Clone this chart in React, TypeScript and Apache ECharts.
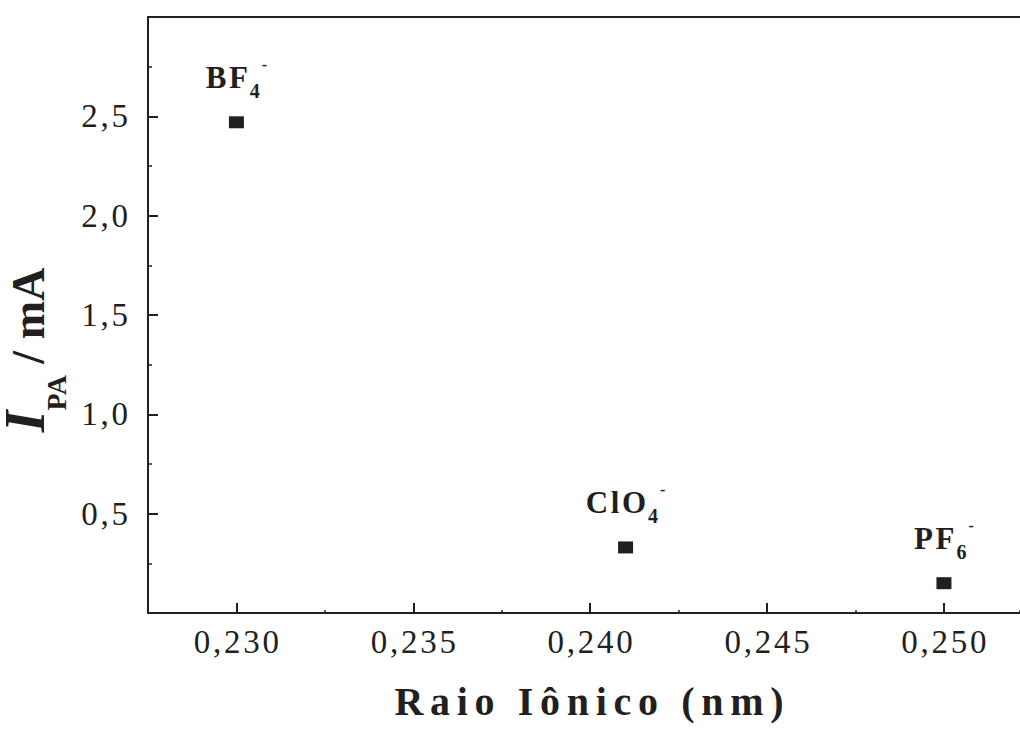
import React, { useEffect, useRef } from "react";
import * as echarts from "echarts";

// Ionic radius of the anion (nm) and anodic peak current (mA)
const ionRadius = [0.23, 0.241, 0.25];
const peakCurrent = [2.47, 0.33, 0.15];
const anionBase = ["BF", "ClO", "PF"];
const anionSub = ["4", "4", "6"];
const xTicks = [0.23, 0.235, 0.24, 0.245, 0.25];

const INK = "#231f20";
const SERIF = '"Liberation Serif", "Times New Roman", serif';
const HAIR = "\u200A";

const spaced = (s: string, n = 1) => s.split("").join(HAIR.repeat(n));
const comma = (v: number, d: number) => v.toFixed(d).replace(".", ",");

const X_MIN = 0.2275;
const X_MAX = 0.25215;

export default function App() {
  const ref = useRef<HTMLDivElement>(null);

  useEffect(() => {
    if (!ref.current) return;
    const chart = echarts.init(ref.current, undefined, { renderer: "svg" });

    const tickLabel = {
      fontFamily: SERIF,
      fontSize: 33,
      color: INK,
      lineHeight: 33,
    };

    chart.setOption({
      animation: false,
      backgroundColor: "#ffffff",
      grid: { left: 148, right: 0, top: 17, bottom: 116 },
      xAxis: [
        {
          type: "value",
          min: X_MIN,
          max: X_MAX,
          position: "bottom",
          axisLine: { show: true, onZero: false, lineStyle: { color: INK, width: 2 } },
          axisTick: {
            show: true,
            inside: true,
            length: 10,
            customValues: xTicks,
            lineStyle: { color: INK, width: 2 },
          },
          axisLabel: {
            ...tickLabel,
            customValues: xTicks,
            margin: 12,
            formatter: (v: number) => spaced(comma(v, 3)),
          },
          splitLine: { show: false },
        },
        {
          // minor ticks along the bottom axis
          type: "value",
          min: X_MIN,
          max: X_MAX,
          interval: 0.0025,
          position: "bottom",
          axisLine: { show: false },
          axisTick: { show: true, inside: true, length: 3, lineStyle: { color: INK, width: 1.5 } },
          axisLabel: { show: false },
          splitLine: { show: false },
        },
        {
          // frame line along the top
          type: "value",
          min: X_MIN,
          max: X_MAX,
          position: "top",
          axisLine: { show: true, onZero: false, lineStyle: { color: INK, width: 2 } },
          axisTick: { show: false },
          axisLabel: { show: false },
          splitLine: { show: false },
        },
      ],
      yAxis: {
        type: "value",
        min: 0,
        max: 3,
        interval: 0.5,
        axisLine: { show: true, onZero: false, lineStyle: { color: INK, width: 2 } },
        axisTick: { show: true, inside: true, length: 10, lineStyle: { color: INK, width: 2 } },
        minorTick: { show: true, splitNumber: 2, length: 4, lineStyle: { color: INK, width: 1.5 } },
        axisLabel: {
          ...tickLabel,
          margin: 20,
          formatter: (v: number) => (v === 0 || v === 3 ? "" : spaced(comma(v, 1))),
        },
        splitLine: { show: false },
        minorSplitLine: { show: false },
      },
      series: [
        {
          type: "scatter",
          xAxisIndex: 0,
          yAxisIndex: 0,
          symbol: "rect",
          symbolSize: [15, 12],
          itemStyle: { color: INK, opacity: 1 },
          data: ionRadius.map((x, i) => [x, peakCurrent[i]]),
          label: {
            show: true,
            position: "top",
            distance: 15,
            color: INK,
            opacity: 1,
            formatter: (p: any) =>
              `{b|${spaced(anionBase[p.dataIndex])}}{s|${anionSub[p.dataIndex]}}{p|-}`,
            rich: {
              b: {
                fontFamily: SERIF,
                fontSize: 31,
                fontWeight: "bold",
                color: INK,
                verticalAlign: "top",
                padding: [6, 2, 0, 0],
              },
              s: {
                fontFamily: SERIF,
                fontSize: 20,
                fontWeight: "bold",
                color: INK,
                verticalAlign: "top",
                padding: [25, 2, 0, 0],
              },
              p: {
                fontFamily: SERIF,
                fontSize: 16,
                fontWeight: "bold",
                color: INK,
                verticalAlign: "top",
                padding: [0, 0, 0, 0],
              },
            },
          },
        },
      ],
      graphic: [
        {
          type: "text",
          x: 589,
          y: 701.5,
          style: {
            text: spaced("Raio Iônico (nm)", 2),
            fontFamily: SERIF,
            fontSize: 40,
            fontWeight: "bold",
            fill: INK,
            align: "center",
            verticalAlign: "middle",
          },
        },
        {
          type: "text",
          x: -3,
          y: 350,
          rotation: Math.PI / 2,
          style: {
            text: "{i|I}{s|PA}{t| / mA}",
            align: "center",
            verticalAlign: "top",
            fill: INK,
            rich: {
              i: {
                fontFamily: SERIF,
                fontSize: 56,
                fontWeight: "bold",
                fontStyle: "italic",
                fill: INK,
                verticalAlign: "top",
                padding: [0, 0, 0, 0],
              },
              s: {
                fontFamily: SERIF,
                fontSize: 28,
                fontWeight: "bold",
                fill: INK,
                verticalAlign: "top",
                padding: [45, 0, 0, 0],
              },
              t: {
                fontFamily: SERIF,
                fontSize: 46,
                fontWeight: "bold",
                fill: INK,
                verticalAlign: "top",
                padding: [8, 0, 0, 0],
              },
            },
          },
        },
      ],
    });

    return () => chart.dispose();
  }, []);

  return (
    <div
      ref={ref}
      style={{ position: "fixed", left: 0, top: 0, width: 1020, height: 729 }}
    />
  );
}
